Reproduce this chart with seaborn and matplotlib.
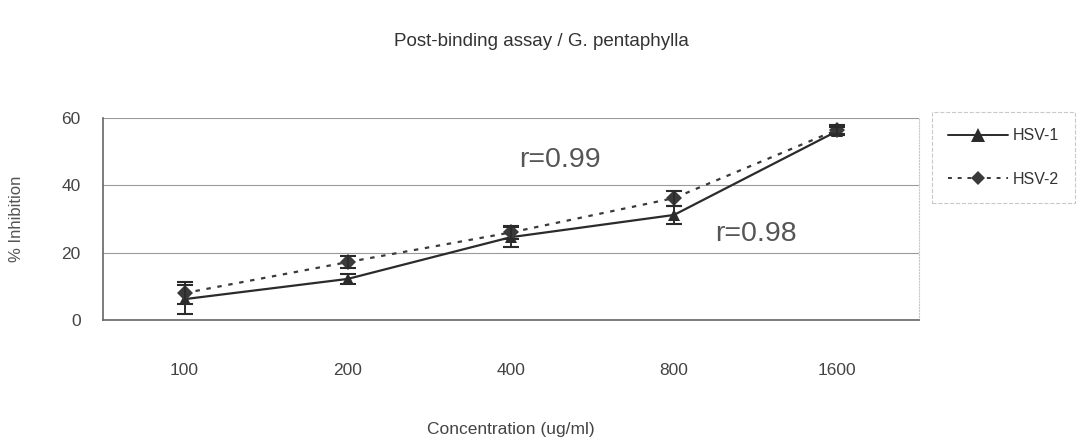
import numpy as np
import pandas as pd
import matplotlib.pyplot as plt
import seaborn as sns

concentrations = ['100', '200', '400', '800', '1600']
hsv1 = [6.2, 12.2, 24.6, 31.2, 56.1]
hsv1_err = [4.3, 1.5, 3.0, 2.7, 1.2]
hsv2 = [8.0, 17.2, 26.0, 36.2, 56.5]
hsv2_err = [3.3, 1.8, 2.0, 2.2, 1.3]

df = pd.DataFrame({
    'x': list(range(len(concentrations))) * 2,
    'y': hsv1 + hsv2,
    'err': hsv1_err + hsv2_err,
    'series': ['HSV-1'] * 5 + ['HSV-2'] * 5,
})

sns.set_style('white')
plt.rcParams['font.family'] = ['Liberation Sans', 'DejaVu Sans']

fig = plt.figure(figsize=(10.82, 4.38), dpi=100)
ax = fig.add_axes([0.0952, 0.2694, 0.7538, 0.4612])

line_col = '#2b2b2b'
sns.lineplot(data=df, x='x', y='y', hue='series', style='series',
             markers={'HSV-1': '^', 'HSV-2': 'D'},
             dashes={'HSV-1': '', 'HSV-2': (2, 3)},
             palette={'HSV-1': line_col, 'HSV-2': '#3a3a3a'},
             markersize=8, linewidth=1.6, markeredgewidth=0, ax=ax, legend=False)
for name, grp in df.groupby('series'):
    ax.errorbar(grp['x'], grp['y'], yerr=grp['err'], fmt='none',
                ecolor=line_col, elinewidth=1.4, capsize=6, capthick=1.5)

ax.set_xlim(-0.5, 4.5)
ax.set_ylim(0, 60)
ax.set_yticks([0, 20, 40, 60])
ax.set_xticks(range(5))
ax.set_xticklabels(concentrations)
ax.set_xticks(np.arange(-0.5, 5, 1), minor=True)
ax.tick_params(axis='x', which='major', length=0, pad=31, labelsize=12.5, colors='#444444')
ax.tick_params(axis='x', which='minor', length=5, width=0.8, colors='#888888', direction='out')
ax.tick_params(axis='y', length=5, width=0.8, direction='out', labelsize=12.5,
               colors='#444444', pad=11)
ax.grid(axis='y', color='#9a9a9a', linewidth=0.8)
ax.set_axisbelow(True)
for side in ['left', 'bottom']:
    ax.spines[side].set_color('#666666')
    ax.spines[side].set_linewidth(1.2)
ax.spines['top'].set_visible(False)
ax.spines['right'].set_color('#c8c8c8')
ax.spines['right'].set_linestyle(':')

ax.text(2.3, 47.5, 'r=0.99', fontsize=20.5, color='#555555', ha='center', va='center')
ax.text(3.5, 25.5, 'r=0.98', fontsize=20.5, color='#555555', ha='center', va='center')

ax.set_xlabel('Concentration (ug/ml)', fontsize=12.5, color='#444444')
ax.xaxis.set_label_coords(0.5, -0.505)
ax.set_ylabel('% Inhibition', fontsize=12, color='#555555')
ax.yaxis.set_label_coords(-0.097, 0.5)
fig.suptitle('Post-binding assay / G. pentaphylla', fontsize=13.5, color='#333333', y=0.925)

handles = [
    plt.Line2D([], [], color=line_col, marker='^', markersize=10, linewidth=1.4,
               markeredgewidth=0),
    plt.Line2D([], [], color='#3a3a3a', marker='D', markersize=7, linewidth=1.4,
               linestyle=(0, (2, 3)), markeredgewidth=0),
]
leg = fig.legend(handles, ['HSV-1', 'HSV-2'], loc='upper left',
                 bbox_to_anchor=(0.861, 0.744), borderaxespad=0, frameon=True,
                 fancybox=False, handlelength=3.8, fontsize=11.5, labelspacing=1.8,
                 borderpad=1.0, handletextpad=0.3)
leg.get_frame().set_edgecolor('#bbbbbb')
leg.get_frame().set_linestyle('--')
leg.get_frame().set_linewidth(0.8)
for t in leg.get_texts():
    t.set_color('#333333')

fig.savefig('out.png', dpi=100)
